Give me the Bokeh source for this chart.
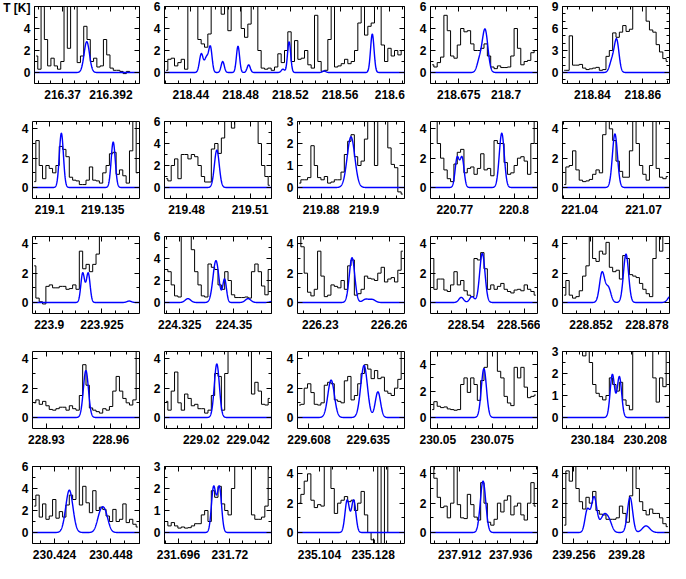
import numpy as np
from bokeh.plotting import figure
from bokeh.models import Range1d, FixedTicker, LinearAxis, CustomJSTickFormatter
from bokeh.layouts import row, column
from bokeh.embed import file_html
from bokeh.resources import INLINE

# ---------------- DATA ----------------
# Each panel: x range [GHz], y max [K], y tick labels, x tick labels,
# observed spectrum (uniform channels across the window), model lines (centre GHz, peak K, FWHM GHz)

# Row 1
r1p1_range = [216.3572, 216.4050]; r1p1_ymax = 6; r1p1_yticks = [0, 2, 4, 6]; r1p1_xticks = [216.37, 216.392]
r1p1_obs = [1.5, 0.3, 8, 3.0, 0.6, 1.3, 0.6, 0.3, 1.0, 8, 2.2, 8, 8, 0.9, 1.5, 4.2, 3.0, 1.0, 1.3, 0.5,
            0.6, 3.0, 1.6, 0.4, 0.2, 0.2, 0.1, -0.1, 0.1, 0.0, 0.0, 0.0]
r1p1_lines = [[216.3810, 2.8, 0.0029]]

r1p2_range = [218.4188, 218.6118]; r1p2_ymax = 6; r1p2_yticks = [0, 2, 4, 6]
r1p2_xticks = [218.44, 218.48, 218.52, 218.56, 218.6]
r1p2_obs = [0.2, 1.2, 1.3, 0.6, 0.9, 1.2, 0.3, 8, 8, 8, 3.0, 2.6, 2.3, 3.5, 8, 8, 8, 5.3, 8, 3.8,
            8, 8, 8, 4.0, 3.2, 4.4, 8, 8, 2.0, 0.4, 0.3, 0.4, 0.2, 0.5, 1.7, 0.9, 2.0, 3.7, 1.0, 2.9,
            1.2, 1.3, 2.0, 0.7, 0.4, 5.2, 1.0, 0.1, 0.2, 3.0, 8, 0.5, 0.6, 0.8, 1.2, 0.8, 1.0, 2.0, 4.5, 8,
            3.4, 4.2, 4.5, 8, 8, 2.5, 1.0, 2.2, 1.5, 2.0, 1.6, 2.0]
r1p2_lines = [[218.4484, 1.7, 0.0035], [218.4525, 1.3, 0.0035], [218.4557, 2.3, 0.0032],
              [218.4656, 1.0, 0.003], [218.4779, 2.4, 0.003], [218.4865, 0.7, 0.003],
              [218.5140, 0.3, 0.003], [218.5190, 2.8, 0.003], [218.5472, 0.15, 0.003],
              [218.5859, 3.5, 0.0033]]

r1p3_range = [218.6601, 218.7166]; r1p3_ymax = 6; r1p3_yticks = [0, 2, 4, 6]; r1p3_xticks = [218.675, 218.7]
r1p3_obs = [0.7, 0.5, 0.9, 1.4, 5.2, 3.8, 1.5, 1.3, 2.5, 4.0, 3.7, 3.8, 2.6, 2.0, 2.0, 2.2, 2.6, 1.5, 0.5, 0.35,
            0.6, 0.45, 0.45, 0.5, 1.5, 4.0, 2.2, 0.7, 1.0, 1.1, 1.8, 2.0]
r1p3_lines = [[218.6889, 3.9, 0.0035], [218.6859, 1.0, 0.003]]

r1p4_range = [218.8281, 218.8706]; r1p4_ymax = 9; r1p4_yticks = [0, 3, 6, 9]; r1p4_xticks = [218.84, 218.86]
r1p4_obs = [0.3, 0.3, 5.0, 1.0, 1.0, 1.1, 0.6, 0.4, 0.5, 0.6, 0.7, 0.3, 0.4, 2.2, 3.0, 5.4, 4.8, 5.5, 6.4, 5.6,
            5.9, 12, 12, 12, 12, 7.0, 5.8, 5.5, 3.8, 2.8, 1.9, 1.5]
r1p4_lines = [[218.8496, 4.4, 0.0022], [218.8477, 1.5, 0.0022]]

# Row 2
r2p1_range = [219.0886, 219.1594]; r2p1_ymax = 4.5; r2p1_yticks = [0, 2, 4]; r2p1_xticks = [219.1, 219.135]
r2p1_obs = [0.4, 3.2, 1.5, 0.6, 1.5, 1.3, 1.0, 1.5, 2.8, 2.6, 2.1, 0.7, 0.5, 0.45, 0.2, 0.2, 0.5, 1.4, 0.5, 0.45,
            0.3, 1.0, 1.5, 2.3, 2.4, 0.9, 1.2, 0.8, 0.3, 2.5, 8, 1.0]
r2p1_lines = [[219.1077, 3.7, 0.0032], [219.1420, 3.1, 0.0032]]

r2p2_range = [219.4696, 219.5201]; r2p2_ymax = 6; r2p2_yticks = [0, 2, 4, 6]; r2p2_xticks = [219.48, 219.51]
r2p2_obs = [0.8, 0.6, 2.0, 2.6, 0.8, 3.0, 3.0, 2.6, 3.0, 2.8, 2.0, 1.0, 0.5, 0.5, 3.5, 4.0, 3.1, 4.5, 8, 8,
            5.4, 8, 8, 8, 8, 8, 8, 8, 4.0, 2.0, 1.0, 0.2]
r2p2_lines = [[219.4943, 3.4, 0.0027]]

r2p3_range = [219.8690, 219.9188]; r2p3_ymax = 3; r2p3_yticks = [0, 1, 2, 3]; r2p3_xticks = [219.88, 219.9]
r2p3_obs = [0.2, 0.35, 0.35, 0.45, 1.9, 1.0, 0.45, 0.35, 0.5, 0.2, 0.25, 0.35, 0.35, 0.7, 1.5, 2.1, 2.4, 1.4, 1.0, 1.2,
            2.2, 5, 5, 1.0, 5, 5, 3.0, 1.8, 1.05, 0.9, -0.2, -0.3]
r2p3_lines = [[219.8939, 2.3, 0.0042]]

r2p4_range = [220.7577, 220.8119]; r2p4_ymax = 4.5; r2p4_yticks = [0, 2, 4]; r2p4_xticks = [220.77, 220.8]
r2p4_obs = [5, 5, 3.0, 2.0, 1.2, 0.6, 0.4, 1.6, 2.4, 2.6, 1.0, 1.3, 1.4, 0.9, 1.3, 2.3, 1.2, 1.3, 0.8, 3.2,
            3.0, 3.0, 1.7, 0.9, 1.0, 1.5, 2.0, 2.1, 1.8, 0.9, 3.0, 8]
r2p4_lines = [[220.7712, 2.0, 0.0024], [220.7737, 2.0, 0.0024], [220.7938, 3.7, 0.003]]

r2p5_range = [221.0320, 221.0822]; r2p5_ymax = 4.5; r2p5_yticks = [0, 2, 4]; r2p5_xticks = [221.04, 221.07]
r2p5_obs = [0.2, 1.4, 1.5, 2.5, 1.2, 0.5, 0.4, 0.45, 0.55, 0.9, 1.2, 1.0, 3.6, 8, 4.0, 3.2, 1.8, 1.1, 0.7, 0.7,
            2.5, 8, 3.0, 1.5, 0.9, 0.5, 1.5, 8, 1.3, 0.7, 0.6, 0.75]
r2p5_lines = [[221.0566, 3.65, 0.0028]]

# Row 3
r3p1_range = [223.8921, 223.9428]; r3p1_ymax = 4.5; r3p1_yticks = [0, 2, 4]; r3p1_xticks = [223.9, 223.925]
r3p1_obs = [2.5, 0.3, 0.05, -0.1, 1.1, 1.2, 1.0, 1.0, 1.1, 1.1, 0.9, 0.95, 1.2, 0.9, 3.5, 2.3, 2.6, 2.1, 2.6, 3.3,
            4.5, 8, 8, 8, 8, 8, 8, 8, 8, 8, 8, 8]
r3p1_lines = [[223.9159, 2.0, 0.0021], [223.9185, 2.0, 0.0021], [223.9379, 0.1, 0.0025]]

r3p2_range = [224.3180, 224.3673]; r3p2_ymax = 6; r3p2_yticks = [0, 2, 4, 6]; r3p2_xticks = [224.325, 224.35]
r3p2_obs = [3.0, 2.8, 1.6, 0.6, 0.5, 8, 8, 8, 4.8, 2.8, 1.6, 0.6, 0.5, 3.5, 3.2, 3.0, 1.6, 1.2, 2.8, 2.0,
            0.7, 0.45, 0.45, 0.45, 0.5, 0.4, 2.8, 3.5, 2.8, 1.5, 0.7, 3.0]
r3p2_lines = [[224.3288, 0.35, 0.003], [224.3417, 3.8, 0.0032], [224.3457, 2.1, 0.002],
              [224.3565, 0.35, 0.003], [224.3680, 0.12, 0.003]]

r3p3_range = [226.2201, 226.2664]; r3p3_ymax = 4.5; r3p3_yticks = [0, 2, 4]; r3p3_xticks = [226.23, 226.26]
r3p3_obs = [8, 3.8, 2.0, 0.7, 0.45, 0.9, 3.5, 1.8, 0.4, 0.5, 1.2, 1.1, 1.0, 1.5, 0.9, 2.5, 2.9, 0.5, 0.6, 0.9,
            1.8, 1.65, 1.6, 1.5, 2.0, 2.4, 1.4, 1.6, 1.7, 1.4, 2.2, 3.5]
r3p3_lines = [[226.2437, 3.05, 0.0028], [226.2496, 0.22, 0.003], [226.2525, 0.2, 0.003]]

r3p4_range = [228.5241, 228.5718]; r3p4_ymax = 4.5; r3p4_yticks = [0, 2, 4]; r3p4_xticks = [228.54, 228.566]
r3p4_obs = [3.0, 0.9, 1.6, 1.6, 0.85, 0.75, 1.2, 2.1, 1.2, 1.5, 0.8, 0.5, 0.4, 3.0, 2.9, 3.4, 2.3, 0.9, 1.2, 0.9,
            1.1, 1.3, 0.9, 0.75, 0.65, 0.85, 0.9, 0.8, 1.2, 0.9, 0.75, 0.5]
r3p4_lines = [[228.5472, 3.35, 0.0028], [228.5378, 0.35, 0.0025], [228.5426, 0.4, 0.0025]]

r3p5_range = [228.8388, 228.8885]; r3p5_ymax = 4.5; r3p5_yticks = [0, 2, 4]; r3p5_xticks = [228.852, 228.878]
r3p5_obs = [0.5, 1.5, 0.5, 0.3, 0.4, 0.8, 1.8, 2.5, 8, 3.0, 2.8, 3.5, 3.3, 4.1, 2.4, 2.1, 2.2, 1.6, 3.2, 3.0,
            1.9, 1.8, 1.7, 1.3, 0.9, 0.6, 0.4, 3.0, 8, 3.5, 8, 8]
r3p5_lines = [[228.8572, 2.05, 0.0028], [228.8601, 1.0, 0.0028], [228.8683, 3.3, 0.0028], [228.8888, 0.4, 0.0028]]

# Row 4
r4p1_range = [228.9235, 228.9734]; r4p1_ymax = 4.5; r4p1_yticks = [0, 2, 4]; r4p1_xticks = [228.93, 228.96]
r4p1_obs = [1.0, 1.2, 0.9, 1.1, 0.8, 0.55, 0.5, 0.6, 0.7, 0.7, 0.5, 0.8, 0.6, 0.5, 1.5, 3.6, 2.2, 0.65, 0.5, 0.4,
            0.3, 0.6, 0.5, 0.75, 1.8, 2.8, 1.8, 1.3, 1.0, 0.85, 1.2, 8]
r4p1_lines = [[228.9484, 3.2, 0.0028]]

r4p2_range = [229.0027, 229.0530]; r4p2_ymax = 4.5; r4p2_yticks = [0, 2, 4]; r4p2_xticks = [229.02, 229.042]
r4p2_obs = [1.1, 0.5, 1.8, 3.1, 1.0, 0.5, 1.6, 1.3, 0.8, 0.9, 0.6, 0.6, 0.3, 0.5, 1.5, 3.0, 2.8, 0.5, 3.0, 8,
            8, 8, 8, 8, 8, 8, 1.6, 2.4, 1.8, 0.9, 0.85, 1.3]
r4p2_lines = [[229.0273, 3.65, 0.0028]]

r4p3_range = [229.6028, 229.6515]; r4p3_ymax = 4.5; r4p3_yticks = [0, 2, 4]; r4p3_xticks = [229.608, 229.635]
r4p3_obs = [0.85, 0.9, 2.0, 2.3, 1.7, 0.9, 0.85, 1.0, 2.2, 2.4, 2.3, 1.2, 1.1, 1.0, 2.5, 2.8, 1.2, 1.5, 2.3, 3.0,
            3.6, 3.3, 2.65, 3.2, 2.65, 2.75, 1.8, 1.65, 1.5, 2.0, 2.6, 8]
r4p3_lines = [[229.6181, 2.55, 0.0035], [229.6331, 3.55, 0.0036], [229.6394, 1.75, 0.0028]]

r4p4_range = [230.0466, 230.0959]; r4p4_ymax = 5; r4p4_yticks = [0, 2, 4]; r4p4_xticks = [230.05, 230.075]
r4p4_obs = [0.6, 1.2, 0.85, 0.75, 0.8, 0.65, 0.6, 0.55, 0.6, 2.5, 3.0, 1.9, 3.0, 2.5, 1.3, 2.8, 3.8, 5, 6, 5,
            3.5, 3.0, 1.6, 1.1, 0.9, 3.8, 3.0, 3.8, 2.3, 1.5, 1.6, 1.7]
r4p4_lines = [[230.0712, 3.7, 0.0028]]

r4p5_range = [230.1704, 230.2191]; r4p5_ymax = 3; r4p5_yticks = [0, 1, 2, 3]; r4p5_xticks = [230.184, 230.208]
r4p5_obs = [8, 8, 8, 8, 8, 8, 2.8, 8, 2.5, 1.5, 1.1, 0.95, 0.8, 1.0, 1.8, 1.5, 1.2, 1.6, 0.8, 0.55,
            0.35, 8, 8, 8, 8, 8, 8, 1.8, 0.7, 1.8, 1.4, 8]
r4p5_lines = [[230.1931, 1.95, 0.0024], [230.1963, 1.85, 0.0024]]

# Row 5
r5p1_range = [230.4146, 230.4602]; r5p1_ymax = 6; r5p1_yticks = [0, 2, 4, 6]; r5p1_xticks = [230.424, 230.448]
r5p1_obs = [2.4, 3.4, 1.4, 2.6, 1.2, 1.5, 3.0, 1.3, 1.9, 1.4, 2.5, 3.4, 3.0, 8, 2.5, 4.2, 2.7, 1.8, 3.8, 2.0,
            2.3, 2.1, 1.5, 1.0, 2.1, 1.0, 1.2, 2.6, 0.9, 1.2, 0.75, 0.5]
r5p1_lines = [[230.4303, 3.85, 0.0036], [230.4435, 1.55, 0.0033], [230.4456, 1.55, 0.0033]]

r5p2_range = [231.6895, 231.7394]; r5p2_ymax = 3; r5p2_yticks = [0, 1, 2, 3]; r5p2_xticks = [231.696, 231.72]
r5p2_obs = [0.5, 0.3, 0.45, 0.3, 0.2, 0.25, 0.2, 0.22, 0.3, 0.4, 0.4, 0.8, 1.0, 0.5, 1.9, 1.6, 2.1, 1.3, 1.0, 0.8,
            2.0, 8, 8, 8, 8, 3.0, 0.8, 0.6, 0.6, 0.7, 1.2, 8]
r5p2_lines = [[231.7124, 2.05, 0.0024], [231.7151, 2.05, 0.0024]]

r5p3_range = [235.0942, 235.1420]; r5p3_ymax = 4.5; r5p3_yticks = [0, 2, 4]; r5p3_xticks = [235.104, 235.128]
r5p3_obs = [2.0, 2.6, 3.5, 4.0, 2.2, 1.7, 1.9, 1.8, 8, 8, 3.0, 1.3, 2.0, 2.2, 2.45, 2.1, 2.2, 1.5, 2.0, 2.8,
            1.2, 0.0, -0.5, -1.5, 8, -1.5, 8, 0.0, 0.0, 0.0, 0.0, 0.0]
r5p3_lines = [[235.1164, 2.2, 0.0023], [235.1193, 2.2, 0.0023]]

r5p4_range = [237.8983, 237.9486]; r5p4_ymax = 4.5; r5p4_yticks = [0, 2, 4]; r5p4_xticks = [237.912, 237.936]
r5p4_obs = [8, 3.7, 2.4, 1.7, 1.8, 1.0, 2.0, 8, 1.9, 1.0, 0.95, 2.6, 1.9, 1.05, 0.85, 3.4, 2.0, 0.7, 0.5, 0.9,
            2.0, 1.4, 2.2, 2.5, 1.2, 1.8, 2.0, 1.2, 0.85, 2.0, 3.4, 1.8]
r5p4_lines = [[237.9230, 3.5, 0.003]]

r5p5_range = [239.2508, 239.2996]; r5p5_ymax = 4.5; r5p5_yticks = [0, 2, 4]; r5p5_xticks = [239.256, 239.28]
r5p5_obs = [0.5, 4.2, 3.5, 8, 3.0, 2.1, 1.6, 2.4, 2.0, 2.8, 1.5, 1.25, 1.2, 0.9, 0.9, 0.9, 1.0, 1.8, 1.3, 0.7,
            2.5, 8, 3.0, 2.1, 1.5, 1.2, 1.6, 1.3, 1.3, 1.0, 0.6, 0.4]
r5p5_lines = [[239.2621, 1.5, 0.0025], [239.2652, 2.4, 0.003], [239.2698, 1.2, 0.004],
              [239.2723, 0.5, 0.003], [239.2816, 2.4, 0.0028], [239.2889, 0.45, 0.004]]

ROWS = [
    [(r1p1_range, r1p1_ymax, r1p1_yticks, r1p1_xticks, r1p1_obs, r1p1_lines),
     (r1p2_range, r1p2_ymax, r1p2_yticks, r1p2_xticks, r1p2_obs, r1p2_lines),
     (r1p3_range, r1p3_ymax, r1p3_yticks, r1p3_xticks, r1p3_obs, r1p3_lines),
     (r1p4_range, r1p4_ymax, r1p4_yticks, r1p4_xticks, r1p4_obs, r1p4_lines)],
    [(r2p1_range, r2p1_ymax, r2p1_yticks, r2p1_xticks, r2p1_obs, r2p1_lines),
     (r2p2_range, r2p2_ymax, r2p2_yticks, r2p2_xticks, r2p2_obs, r2p2_lines),
     (r2p3_range, r2p3_ymax, r2p3_yticks, r2p3_xticks, r2p3_obs, r2p3_lines),
     (r2p4_range, r2p4_ymax, r2p4_yticks, r2p4_xticks, r2p4_obs, r2p4_lines),
     (r2p5_range, r2p5_ymax, r2p5_yticks, r2p5_xticks, r2p5_obs, r2p5_lines)],
    [(r3p1_range, r3p1_ymax, r3p1_yticks, r3p1_xticks, r3p1_obs, r3p1_lines),
     (r3p2_range, r3p2_ymax, r3p2_yticks, r3p2_xticks, r3p2_obs, r3p2_lines),
     (r3p3_range, r3p3_ymax, r3p3_yticks, r3p3_xticks, r3p3_obs, r3p3_lines),
     (r3p4_range, r3p4_ymax, r3p4_yticks, r3p4_xticks, r3p4_obs, r3p4_lines),
     (r3p5_range, r3p5_ymax, r3p5_yticks, r3p5_xticks, r3p5_obs, r3p5_lines)],
    [(r4p1_range, r4p1_ymax, r4p1_yticks, r4p1_xticks, r4p1_obs, r4p1_lines),
     (r4p2_range, r4p2_ymax, r4p2_yticks, r4p2_xticks, r4p2_obs, r4p2_lines),
     (r4p3_range, r4p3_ymax, r4p3_yticks, r4p3_xticks, r4p3_obs, r4p3_lines),
     (r4p4_range, r4p4_ymax, r4p4_yticks, r4p4_xticks, r4p4_obs, r4p4_lines),
     (r4p5_range, r4p5_ymax, r4p5_yticks, r4p5_xticks, r4p5_obs, r4p5_lines)],
    [(r5p1_range, r5p1_ymax, r5p1_yticks, r5p1_xticks, r5p1_obs, r5p1_lines),
     (r5p2_range, r5p2_ymax, r5p2_yticks, r5p2_xticks, r5p2_obs, r5p2_lines),
     (r5p3_range, r5p3_ymax, r5p3_yticks, r5p3_xticks, r5p3_obs, r5p3_lines),
     (r5p4_range, r5p4_ymax, r5p4_yticks, r5p4_xticks, r5p4_obs, r5p4_lines),
     (r5p5_range, r5p5_ymax, r5p5_yticks, r5p5_xticks, r5p5_obs, r5p5_lines)],
]
Y_LABEL = "T [K]"   # drawn in place of the top tick label of the first panel

# ---------------- LAYOUT / STYLE ----------------
FRAME_H = 77
ROW_BORDERS = [(6, 29), (9, 29), (9, 29), (9, 29), (9, 20)]       # (top, bottom)
COLS_STD = [(32, 107, 3), (22, 107, 3), (23, 107, 3), (23, 107, 3), (22, 107, 1)]  # (left, frame, right)
COLS_ROW1 = [(32, 107, 3), (22, 240, 3), (23, 107, 3), (22, 107, 1)]
FONT = "Liberation Sans"
BLUE = "#0000ff"

xfmt_code = "return tick.toFixed(3).replace(/\\.?0+$/, '');"
yfmt_first_code = "return (tick == top) ? lab : tick.toFixed(0);"


def style_axis(ax, labels, standoff=4):
    ax.axis_line_color = None
    ax.major_tick_in = 5
    ax.major_tick_out = 0
    ax.minor_tick_in = 3
    ax.minor_tick_out = 0
    ax.major_tick_line_color = "black"
    ax.minor_tick_line_color = "black"
    ax.major_tick_line_width = 1
    ax.minor_tick_line_width = 1
    if labels:
        ax.major_label_text_font = FONT
        ax.major_label_text_font_size = "12px"
        ax.major_label_text_font_style = "bold"
        ax.major_label_text_color = "black"
        ax.major_label_standoff = standoff
    else:
        ax.major_label_text_font_size = "1px"
        ax.major_label_text_color = None
        ax.major_label_standoff = 0


def make_panel(spec, geom, rb, first=False):
    rng, ymax, yticks, xticks, obs, lines = spec
    lo, hi = rng
    ymin = -ymax / 6.0
    lb, fw, rbd = geom
    tb, bb = rb
    p = figure(width=lb + fw + rbd, height=tb + FRAME_H + bb,
               x_range=Range1d(lo, hi), y_range=Range1d(ymin, ymax),
               output_backend="svg", toolbar_location=None,
               min_border_left=lb, min_border_right=rbd,
               min_border_top=tb, min_border_bottom=bb)
    p.outline_line_color = "black"
    p.outline_line_width = 1
    p.background_fill_color = "white"
    p.border_fill_color = "white"
    p.xgrid.visible = False
    p.ygrid.visible = False

    # ticks
    xstep = xticks[1] - xticks[0]
    xm = xstep / 4.0
    k0 = int(np.floor((lo - xticks[0]) / xm))
    k1 = int(np.ceil((hi - xticks[0]) / xm))
    xminor = [xticks[0] + k * xm for k in range(k0, k1 + 1)]
    ystep = yticks[1] - yticks[0]
    ym = 1.0 if ystep >= 2 else 0.5
    yminor = [float(v) for v in np.arange(np.ceil(ymin / ym) * ym, ymax + 1e-9, ym)]

    p.xaxis.ticker = FixedTicker(ticks=xticks, minor_ticks=xminor)
    p.xaxis.formatter = CustomJSTickFormatter(code=xfmt_code)
    p.yaxis.ticker = FixedTicker(ticks=yticks, minor_ticks=yminor)
    if first:
        p.yaxis.formatter = CustomJSTickFormatter(args=dict(top=ymax, lab=Y_LABEL), code=yfmt_first_code)
    style_axis(p.xaxis[0], True, standoff=6)
    style_axis(p.yaxis[0], True, standoff=4)
    top = LinearAxis(ticker=FixedTicker(ticks=xticks, minor_ticks=xminor))
    right = LinearAxis(ticker=FixedTicker(ticks=yticks, minor_ticks=yminor))
    style_axis(top, False)
    style_axis(right, False)
    p.add_layout(top, "above")
    p.add_layout(right, "right")

    # observed spectrum: uniform channel grid across the window
    n = len(obs)
    xs = lo + (np.arange(n) + 0.5) * (hi - lo) / n
    p.step(xs, obs, mode="center", line_color="black", line_width=1)

    # model: sum of Gaussian lines
    xf = np.linspace(lo, hi, 700)
    model = np.zeros_like(xf)
    for c, a, w in lines:
        model += a * np.exp(-4 * np.log(2) * ((xf - c) / w) ** 2)
    p.line(xf, model, line_color=BLUE, line_width=1.4)
    return p


rows = []
for ri, specs in enumerate(ROWS):
    cols = COLS_ROW1 if ri == 0 else COLS_STD
    figs = [make_panel(s, g, ROW_BORDERS[ri], first=(ri == 0 and ci == 0))
            for ci, (s, g) in enumerate(zip(specs, cols))]
    rows.append(row(*figs, spacing=0))

layout = column(*rows, spacing=0)
open("out.html", "w").write(file_html(layout, INLINE, title="spectra"))
